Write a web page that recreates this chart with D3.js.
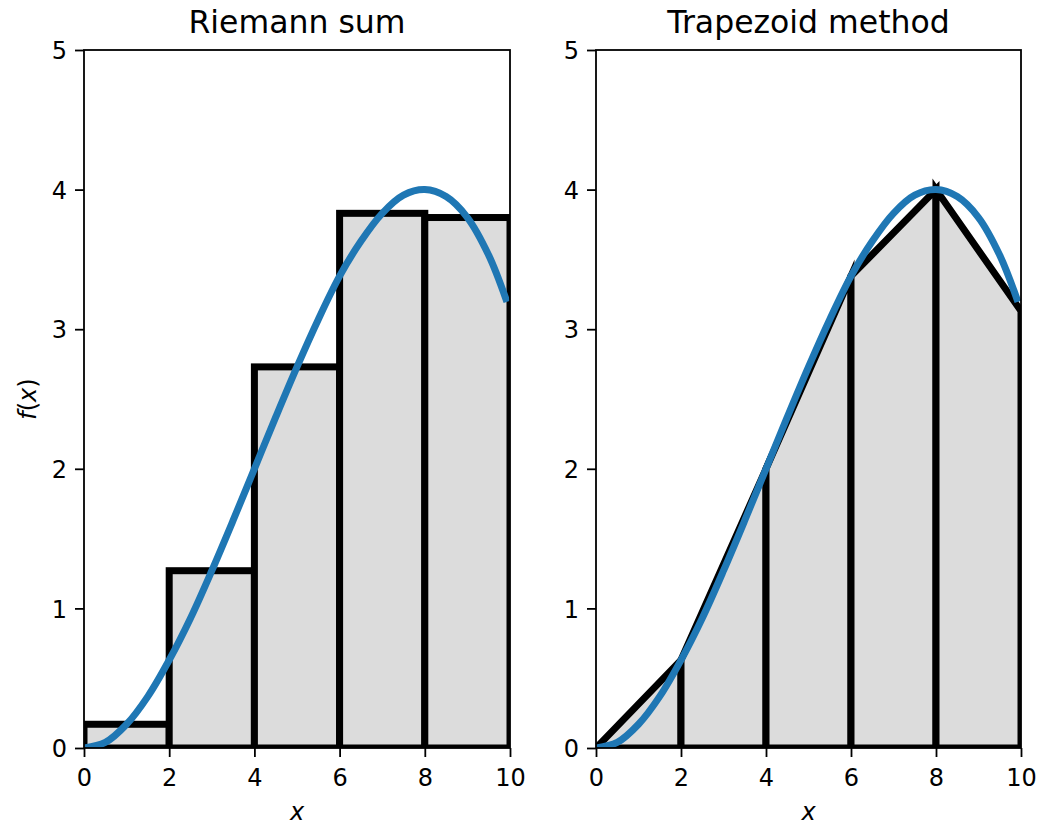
<!DOCTYPE html>
<html>
<head>
<meta charset="utf-8">
<script src="https://cdn.jsdelivr.net/npm/d3@7"></script>
<style>
  body { margin: 0; background: #fff; }
  svg { display: block; font-family: "DejaVu Sans", sans-serif; }
</style>
</head>
<body>
<div id="chart"></div>
<script>
const curveX = [0, 0.5, 1, 1.5, 2, 2.5, 3, 3.5, 4, 4.5, 5, 5.5, 6, 6.5, 7, 7.5, 8, 8.5, 9, 9.5, 9.9];
const curveY = [0, 0.04, 0.17, 0.37, 0.63, 0.93, 1.27, 1.63, 2.0, 2.37, 2.73, 3.07, 3.38, 3.63, 3.83, 3.96, 4.0, 3.95, 3.8, 3.53, 3.22];

// Riemann (midpoint) rectangles
const rectLeft = [0, 2, 4, 6, 8];
const rectHeight = [0.17, 1.27, 2.73, 3.83, 3.8];

// trapezoid nodes
const trapX = [0, 2, 4, 6, 8, 10];
const trapY = [0, 0.63, 2.0, 3.38, 4.0, 3.13];

const xTicks = [0, 2, 4, 6, 8, 10];
const yTicks = [0, 1, 2, 3, 4, 5];
const titles = ["Riemann sum", "Trapezoid method"];

const width = 1041, height = 826;
const plotTop = 50, plotBottom = 748;
const panels = [
    { left: 84, right: 510 },
    { left: 596, right: 1021 }
];

const svg = d3.select("#chart").append("svg")
    .attr("width", width)
    .attr("height", height);

const yScale = d3.scaleLinear().domain([0, 5]).range([plotBottom, plotTop]);

const curvePts = curveX.map((x, i) => [x, curveY[i]]);

panels.forEach((p, pi) => {
    const xScale = d3.scaleLinear().domain([0, 10]).range([p.left, p.right]);
    const g = svg.append("g");

    const clipId = "clip" + pi;
    svg.append("clipPath").attr("id", clipId)
        .append("rect")
        .attr("x", p.left).attr("y", plotTop)
        .attr("width", p.right - p.left).attr("height", plotBottom - plotTop);

    const plot = g.append("g").attr("clip-path", `url(#${clipId})`);

    if (pi === 0) {
        plot.selectAll("rect.bar")
            .data(rectLeft)
            .join("rect")
            .attr("class", "bar")
            .attr("x", d => xScale(d))
            .attr("y", (d, i) => yScale(rectHeight[i]))
            .attr("width", d => xScale(d + 2) - xScale(d))
            .attr("height", (d, i) => yScale(0) - yScale(rectHeight[i]))
            .attr("fill", "#dcdcdc")
            .attr("stroke", "#000")
            .attr("stroke-width", 7)
            .attr("stroke-linejoin", "miter");
    } else {
        const segs = d3.range(trapX.length - 1);
        plot.selectAll("path.trap")
            .data(segs)
            .join("path")
            .attr("class", "trap")
            .attr("d", i => d3.line()([
                [xScale(trapX[i]), yScale(0)],
                [xScale(trapX[i]), yScale(trapY[i])],
                [xScale(trapX[i + 1]), yScale(trapY[i + 1])],
                [xScale(trapX[i + 1]), yScale(0)]
            ]) + "Z")
            .attr("fill", "#dcdcdc")
            .attr("stroke", "#000")
            .attr("stroke-width", 7)
            .attr("stroke-linejoin", "miter")
            .attr("stroke-miterlimit", 10);
    }

    plot.append("path")
        .datum(curvePts)
        .attr("d", d3.line()
            .x(d => xScale(d[0]))
            .y(d => yScale(d[1]))
            .curve(d3.curveCatmullRom))
        .attr("fill", "none")
        .attr("stroke", "#1f77b4")
        .attr("stroke-width", 7)
        .attr("stroke-linecap", "square");

    // axes
    const xAxis = g.append("g")
        .attr("transform", `translate(0,${plotBottom})`)
        .call(d3.axisBottom(xScale).tickValues(xTicks).tickSize(9).tickSizeOuter(0));
    const yAxis = g.append("g")
        .attr("transform", `translate(${p.left},0)`)
        .call(d3.axisLeft(yScale).tickValues(yTicks).tickFormat(d3.format("d"))
            .tickSize(9).tickPadding(8).tickSizeOuter(0));

    [xAxis, yAxis].forEach(a => {
        a.select(".domain").remove();
        a.selectAll(".tick line").attr("stroke", "#000").attr("stroke-width", 1.8);
        a.selectAll(".tick text")
            .attr("fill", "#000")
            .attr("font-size", 24)
            .attr("font-family", "DejaVu Sans");
    });
    xAxis.selectAll(".tick text").attr("y", 38).attr("dy", 0);
    yAxis.selectAll(".tick text").attr("dy", "0.36em");

    // spines
    g.append("rect")
        .attr("x", p.left).attr("y", plotTop)
        .attr("width", p.right - p.left).attr("height", plotBottom - plotTop)
        .attr("fill", "none")
        .attr("stroke", "#000")
        .attr("stroke-width", 1.8);

    g.append("text")
        .attr("x", (p.left + p.right) / 2)
        .attr("y", 33)
        .attr("text-anchor", "middle")
        .attr("font-size", 31.5)
        .text(titles[pi]);

    g.append("text")
        .attr("x", (p.left + p.right) / 2)
        .attr("y", 820)
        .attr("text-anchor", "middle")
        .attr("font-size", 24)
        .attr("font-style", "italic")
        .text("x");
});

const yLab = svg.append("text")
    .attr("transform", `translate(36,${(plotTop + plotBottom) / 2}) rotate(-90)`)
    .attr("text-anchor", "middle")
    .attr("font-size", 24);
yLab.append("tspan").attr("font-style", "italic").text("f");
yLab.append("tspan").text("(");
yLab.append("tspan").attr("font-style", "italic").text("x");
yLab.append("tspan").text(")");
</script>
</body>
</html>
